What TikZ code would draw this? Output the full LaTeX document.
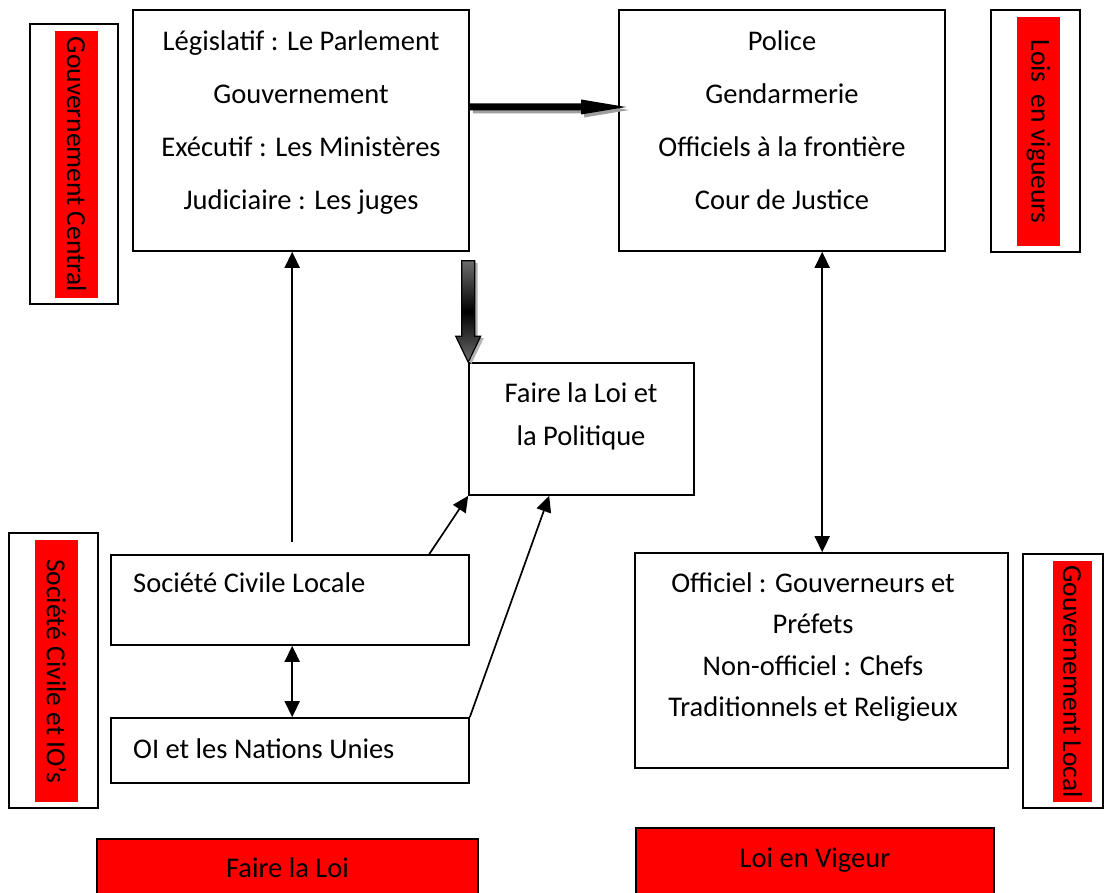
\documentclass[tikz,border=0pt]{standalone}
\usepackage{fontspec}
\setmainfont{Carlito}
\usetikzlibrary{calc,arrows.meta}
\newcommand{\firstln}{\rule{0pt}{21pt}}
\begin{document}
\begin{tikzpicture}[x=1pt,y=-1pt,
  box/.style={draw, line width=1.6pt, fill=white, inner sep=0pt},
  redfill/.style={fill=red, inner sep=0pt},
  redbox/.style={draw, line width=1.6pt, fill=red, inner sep=0pt},
  txt/.style={inner sep=0pt, align=center, font=\fontsize{28.5}{53}\selectfont},
  lab/.style={inner sep=0pt, rotate=-90, font=\fontsize{27.5}{33}\selectfont},
  arr/.style={line width=1.7pt, -{Triangle[length=16pt,width=15pt]}},
  darr/.style={line width=1.7pt, {Triangle[length=16pt,width=15pt]}-{Triangle[length=16pt,width=15pt]}},
]
\useasboundingbox (0,0) rectangle (1104,893);
\clip (0,0) rectangle (1104,893);
\fill[white] (0,0) rectangle (1104,893);

% main boxes
\node[box, minimum width=336pt, minimum height=241pt] (gov) at (301,130.5) {};
\node[box, minimum width=326pt, minimum height=241pt] (enf) at (782,130.5) {};
\node[box, minimum width=225pt, minimum height=132pt] (mid) at (581.5,429) {};
\node[box, minimum width=358pt, minimum height=90pt] (soc) at (290,600) {};
\node[box, minimum width=358pt, minimum height=65pt] (oi) at (290,750.5) {};
\node[box, minimum width=373pt, minimum height=215pt] (loc) at (821.5,660.5) {};

% texts
\node[txt, anchor=north] (govt) at (301,29) {\firstln Législatif : Le Parlement\\Gouvernement\\Exécutif : Les Ministères\\Judiciaire : Les juges};
\node[txt, anchor=north] (enft) at (782,29) {\firstln Police\\Gendarmerie\\Officiels à la frontière\\Cour de Justice};
\node[txt, anchor=north, font=\fontsize{28.5}{43}\selectfont] (midt) at (581,381) {\firstln Faire la Loi et\\la Politique};
\node[txt, anchor=base west] (soct) at (133,592) {Société Civile Locale};
\node[txt, anchor=base west] (oit) at (133,758) {OI et les Nations Unies};
\node[txt, anchor=north, font=\fontsize{28.5}{41.5}\selectfont] (loct) at (813,571) {\firstln Officiel : Gouverneurs et\\Préfets\\Non-officiel : Chefs\\Traditionnels et Religieux};

% side labels
\node[box, minimum width=88pt, minimum height=280pt] (lgcb) at (74,164) {};
\node[redfill, minimum width=43pt, minimum height=267pt] (lgcr) at (76.5,164.5) {};
\node[lab] (lgct) at (lgcr.center) {Gouvernement Central};

\node[box, minimum width=89pt, minimum height=242pt] (lvgb) at (1035.5,131) {};
\node[redfill, minimum width=43pt, minimum height=229pt] (lvgr) at (1038.5,131.5) {};
\node[lab] (lvgt) at (lvgr.center) {Lois~~en vigueurs};

\node[box, minimum width=89pt, minimum height=275pt] (lscb) at (53.5,670.5) {};
\node[redfill, minimum width=43pt, minimum height=262pt] (lscr) at (56.5,671) {};
\node[lab] (lsct) at (lscr.center) {Société Civile et IO’s};

\node[box, minimum width=80pt, minimum height=254pt] (lglb) at (1063,681) {};
\node[redfill, minimum width=39pt, minimum height=241pt] (lglr) at (1072.5,681.5) {};
\node[lab] (lglt) at (lglr.center) {Gouvernement Local};

% bottom red boxes
\node[redbox, minimum width=381pt, minimum height=70pt] (fl) at (287.5,874) {};
\node[txt, anchor=base] (flt) at (287.5,877) {Faire la Loi};
\node[redbox, minimum width=358pt, minimum height=80pt] (lv) at (815,868) {};
\node[txt, anchor=base] (lvt) at (815,867) {Loi en Vigeur};

% thick horizontal arrow
\coordinate (h0) at ([yshift=23.5pt]gov.east);
\coordinate (h1) at ([xshift=8pt]enf.west |- h0);
\fill[gray!75, transform canvas={shift={(3pt,-3pt)}}]
  ($(h0)+(0,-3.5)$) -- ($(h1)+(-45,-3.5)$) -- ($(h1)+(-45,-7.5)$) -- (h1)
  -- ($(h1)+(-45,7.5)$) -- ($(h1)+(-45,3.5)$) -- ($(h0)+(0,3.5)$) -- cycle;
\fill[black]
  ($(h0)+(0,-3.5)$) -- ($(h1)+(-45,-3.5)$) -- ($(h1)+(-45,-7.5)$) -- (h1)
  -- ($(h1)+(-45,7.5)$) -- ($(h1)+(-45,3.5)$) -- ($(h0)+(0,3.5)$) -- cycle;

% thick down arrow
\coordinate (d0) at ([yshift=-9pt]gov.south -| mid.north west);
\coordinate (d1) at (mid.north west);
\fill[gray!60, transform canvas={shift={(3pt,-2pt)}}]
  ($(d0)+(-6.5,0)$) -- ($(d1)+(-6.5,-26)$) -- ($(d1)+(-12.5,-26)$) -- (d1)
  -- ($(d1)+(12.5,-26)$) -- ($(d1)+(6.5,-26)$) -- ($(d0)+(6.5,0)$) -- cycle;
\draw[line width=1.2pt, top color=gray!85!black, bottom color=gray!85!black, middle color=black]
  ($(d0)+(-6.5,0)$) -- ($(d1)+(-6.5,-26)$) -- ($(d1)+(-12.5,-26)$) -- (d1)
  -- ($(d1)+(12.5,-26)$) -- ($(d1)+(6.5,-26)$) -- ($(d0)+(6.5,0)$) -- cycle;

% thin connectors
\coordinate (s1) at ($(soc.north west)+(182,-12)$);
\draw[arr] (s1) -- (s1 |- gov.south);
\draw[arr] ($(soc.north west)+(319,0)$) -- (mid.south west);
\draw[arr] (oi.north east) -- ($(mid.south west)+(81,0)$);
\coordinate (s2) at ($(soc.south west)+(182,0)$);
\draw[darr] (s2) -- (s2 |- oi.north);
\coordinate (e1) at ($(enf.south west)+(204,0)$);
\draw[darr] (e1) -- (e1 |- loc.north);
\end{tikzpicture}
\end{document}
